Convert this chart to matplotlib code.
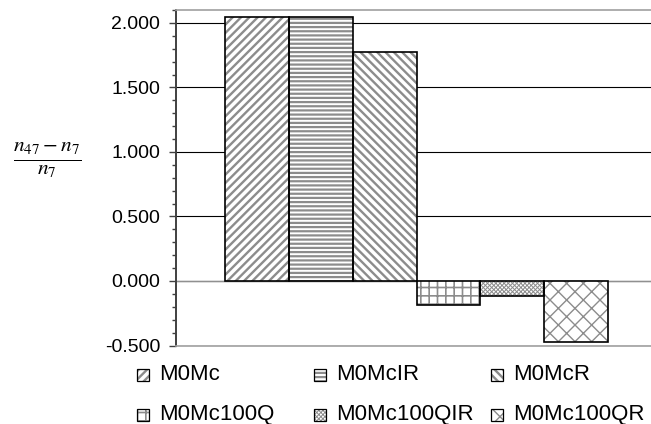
import matplotlib.pyplot as plt
from matplotlib.patches import Rectangle
from matplotlib.ticker import MultipleLocator, FormatStrFormatter

# series of the chart (one category, six series)
series = ['M0Mc', 'M0McIR', 'M0McR', 'M0Mc100Q', 'M0Mc100QIR', 'M0Mc100QR']
values = [2.044, 2.044, 1.778, -0.186, -0.120, -0.475]
hatches = ['////', '----', '\\\\\\\\', '++', 'xxxxxxxx', 'xx']
hatch_widths = [1.7, 1.6, 1.7, 1.2, 0.7, 1.0]

plt.rcParams['font.family'] = ['Liberation Sans', 'DejaVu Sans']
plt.rcParams['mathtext.fontset'] = 'stix'

W, H = 651, 424
fig = plt.figure(figsize=(W / 100, H / 100), dpi=100)
ax = fig.add_axes([176 / W, 1 - 345.5 / H, 481 / W, 335.5 / H])

HATCH_GRAY = '#8c8c8c'


def hatched_bar(x, v, hatch, lw):
    # hatch layer (gray), then black outline on top
    b = ax.bar(x, v, width=1.0, color='white', edgecolor=HATCH_GRAY, hatch=hatch,
               linewidth=0, zorder=3)[0]
    if hasattr(b, 'set_hatch_linewidth'):
        b.set_hatch_linewidth(lw)
    ax.bar(x, v, width=1.0, color='none', edgecolor='black', linewidth=1.2, zorder=4)


for i, v in enumerate(values):
    hatched_bar(i, v, hatches[i], hatch_widths[i])

ax.set_xlim(-0.5 - 0.77, 5.5 + 0.77)
ax.set_ylim(-0.5, 2.1)
ax.yaxis.set_major_locator(MultipleLocator(0.5))
ax.yaxis.set_minor_locator(MultipleLocator(0.1))
ax.yaxis.set_major_formatter(FormatStrFormatter('%.3f'))
ax.set_xticks([])
ax.tick_params(axis='y', which='major', length=5, width=1, color='#404040',
               labelsize=14, pad=6.5)
ax.tick_params(axis='y', which='minor', length=3, width=1, color='#404040')
ax.grid(axis='y', which='major', color='black', linewidth=0.8, zorder=1)
ax.axhline(0, color='#909090', linewidth=1.0, zorder=2)

ax.spines['left'].set_color('#404040')
ax.spines['left'].set_linewidth(1.4)
ax.spines['right'].set_visible(False)
ax.spines['top'].set_color('#a0a0a0')
ax.spines['bottom'].set_color('#a0a0a0')
ax.spines['top'].set_linewidth(1.2)
ax.spines['bottom'].set_linewidth(1.2)

# y-axis label as a fraction
fig.text(47 / W, 1 - 160 / H, r'$\frac{n_{47}-n_{7}}{n_{7}}$', fontsize=22,
         ha='center', va='center')

# legend in a 3 x 2 grid
for i, name in enumerate(series):
    col, row = i % 3, i // 3
    x0 = 137 + 177 * col
    yc = 375 + 39.5 * row
    sq = 12
    r = Rectangle((x0 / W, 1 - (yc + sq / 2) / H), sq / W, sq / H,
                  transform=fig.transFigure, facecolor='white', edgecolor=HATCH_GRAY,
                  hatch=hatches[i], linewidth=0)
    if hasattr(r, 'set_hatch_linewidth'):
        r.set_hatch_linewidth(hatch_widths[i])
    fig.add_artist(r)
    fig.add_artist(Rectangle((x0 / W, 1 - (yc + sq / 2) / H), sq / W, sq / H,
                             transform=fig.transFigure, facecolor='none',
                             edgecolor='black', linewidth=0.9))
    fig.text((x0 + 22) / W, 1 - yc / H, name, fontsize=16, ha='left', va='center')

fig.savefig('out.png', dpi=100)
